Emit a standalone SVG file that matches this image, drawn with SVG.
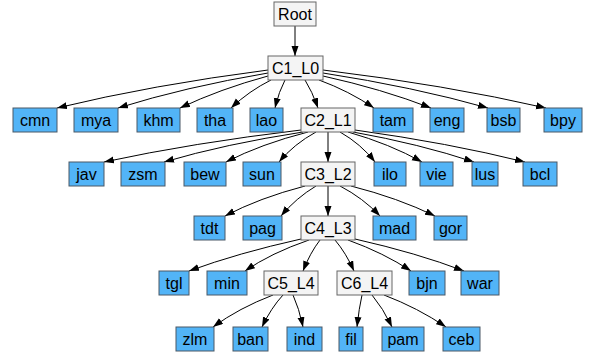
<svg xmlns="http://www.w3.org/2000/svg" width="590" height="355" viewBox="0 0 590 355">
<style>
.b{fill:#52b4f7;stroke:#4a5866;stroke-width:1}
.g{fill:#f4f4f4;stroke:#666;stroke-width:1}
text{font-family:"Liberation Sans",Arial,sans-serif;font-size:16px;text-anchor:middle;fill:#000}
.e path{fill:none;stroke:#000;stroke-width:1;marker-end:url(#a)}
</style>
<defs>
<marker id="a" markerUnits="userSpaceOnUse" markerWidth="10" markerHeight="8" refX="10" refY="3.5" orient="auto"><path d="M0,0 L10,3.5 L0,7 z" fill="#000"/></marker>
</defs>
<g class="e" id="edges">
<path d="M295,26 L295,56"/>
<path d="M268,70 Q152,85 57,108"/>
<path d="M268,73 Q185,87 118,108"/>
<path d="M268,76 Q220,89 180,108"/>
<path d="M271,80 Q249,91 231,108"/>
<path d="M285,80 Q279,91 275,108"/>
<path d="M305,80 Q312,91 318,108"/>
<path d="M319,80 Q349,91 374,108"/>
<path d="M323,76 Q382,89 431,108"/>
<path d="M323,73 Q414,87 488,108"/>
<path d="M323,70 Q446,85 546,108"/>
<path d="M301,130 Q192,143 104,162"/>
<path d="M303,132 Q225,144 164,162"/>
<path d="M308,132 Q261,144 226,162"/>
<path d="M316,132 Q294,144 279,162"/>
<path d="M328,132 L328,162"/>
<path d="M340,132 Q361,144 375,162"/>
<path d="M348,132 Q390,144 422,162"/>
<path d="M353,132 Q420,144 474,162"/>
<path d="M355,130 Q449,143 525,162"/>
<path d="M305,186 Q259,198 225,216"/>
<path d="M316,186 Q296,198 281,216"/>
<path d="M328,186 L328,216"/>
<path d="M340,186 Q363,198 380,216"/>
<path d="M351,186 Q398,198 435,216"/>
<path d="M301,239 Q238,253 189,271"/>
<path d="M309,240 Q271,253 245,271"/>
<path d="M320,240 Q310,253 303,271"/>
<path d="M335,240 Q346,253 354,271"/>
<path d="M348,240 Q384,253 411,271"/>
<path d="M355,239 Q417,253 464,271"/>
<path d="M273,295 Q239,308 213,327"/>
<path d="M283,295 Q271,308 262,327"/>
<path d="M293,295 Q299,308 303,327"/>
<path d="M362,295 Q359,308 357,327"/>
<path d="M372,295 Q383,308 392,327"/>
<path d="M384,295 Q418,308 446,327"/>
</g>
<g id="Root"><rect class="g" x="274" y="2" width="42" height="24"/><text x="295" y="19.5">Root</text></g>
<g id="C1_L0"><rect class="g" x="268" y="56" width="55" height="24"/><text x="295.5" y="73.5">C1_L0</text></g>
<g id="cmn"><rect class="b" x="13" y="108" width="44" height="24"/><text x="35" y="125.5">cmn</text></g>
<g id="mya"><rect class="b" x="74" y="108" width="44" height="24"/><text x="96" y="125.5">mya</text></g>
<g id="khm"><rect class="b" x="137" y="108" width="43" height="24"/><text x="158.5" y="125.5">khm</text></g>
<g id="tha"><rect class="b" x="197" y="108" width="36" height="24"/><text x="215" y="125.5">tha</text></g>
<g id="lao"><rect class="b" x="250" y="108" width="33" height="24"/><text x="266.5" y="125.5">lao</text></g>
<g id="C2_L1"><rect class="g" x="301" y="108" width="54" height="24"/><text x="328" y="125.5">C2_L1</text></g>
<g id="tam"><rect class="b" x="373" y="108" width="40" height="24"/><text x="393" y="125.5">tam</text></g>
<g id="eng"><rect class="b" x="430" y="108" width="34" height="24"/><text x="447" y="125.5">eng</text></g>
<g id="bsb"><rect class="b" x="487" y="108" width="33" height="24"/><text x="503.5" y="125.5">bsb</text></g>
<g id="bpy"><rect class="b" x="544" y="108" width="38" height="24"/><text x="563" y="125.5">bpy</text></g>
<g id="jav"><rect class="b" x="69" y="162" width="35" height="24"/><text x="86.5" y="179.5">jav</text></g>
<g id="zsm"><rect class="b" x="121" y="162" width="44" height="24"/><text x="143" y="179.5">zsm</text></g>
<g id="bew"><rect class="b" x="184" y="162" width="42" height="24"/><text x="205" y="179.5">bew</text></g>
<g id="sun"><rect class="b" x="243" y="162" width="38" height="24"/><text x="262" y="179.5">sun</text></g>
<g id="C3_L2"><rect class="g" x="301" y="162" width="54" height="24"/><text x="328" y="179.5">C3_L2</text></g>
<g id="ilo"><rect class="b" x="374" y="162" width="32" height="24"/><text x="390" y="179.5">ilo</text></g>
<g id="vie"><rect class="b" x="420" y="162" width="33" height="24"/><text x="436.5" y="179.5">vie</text></g>
<g id="lus"><rect class="b" x="472" y="162" width="26" height="24"/><text x="485" y="179.5">lus</text></g>
<g id="bcl"><rect class="b" x="523" y="162" width="34" height="24"/><text x="540" y="179.5">bcl</text></g>
<g id="tdt"><rect class="b" x="194" y="216" width="31" height="24"/><text x="209.5" y="233.5">tdt</text></g>
<g id="pag"><rect class="b" x="243" y="216" width="39" height="24"/><text x="262.5" y="233.5">pag</text></g>
<g id="C4_L3"><rect class="g" x="301" y="216" width="54" height="24"/><text x="328" y="233.5">C4_L3</text></g>
<g id="mad"><rect class="b" x="373" y="216" width="43" height="24"/><text x="394.5" y="233.5">mad</text></g>
<g id="gor"><rect class="b" x="434" y="216" width="33" height="24"/><text x="450.5" y="233.5">gor</text></g>
<g id="tgl"><rect class="b" x="159" y="271" width="30" height="24"/><text x="174" y="288.5">tgl</text></g>
<g id="min"><rect class="b" x="207" y="271" width="40" height="24"/><text x="227" y="288.5">min</text></g>
<g id="C5_L4"><rect class="g" x="264" y="271" width="54" height="24"/><text x="291" y="288.5">C5_L4</text></g>
<g id="C6_L4"><rect class="g" x="337" y="271" width="55" height="24"/><text x="364.5" y="288.5">C6_L4</text></g>
<g id="bjn"><rect class="b" x="409" y="271" width="36" height="24"/><text x="427" y="288.5">bjn</text></g>
<g id="war"><rect class="b" x="461" y="271" width="38" height="24"/><text x="480" y="288.5">war</text></g>
<g id="zlm"><rect class="b" x="176" y="327" width="38" height="24"/><text x="195" y="344.5">zlm</text></g>
<g id="ban"><rect class="b" x="233" y="327" width="35" height="24"/><text x="250.5" y="344.5">ban</text></g>
<g id="ind"><rect class="b" x="287" y="327" width="35" height="24"/><text x="304.5" y="344.5">ind</text></g>
<g id="fil"><rect class="b" x="339" y="327" width="24" height="24"/><text x="351" y="344.5">fil</text></g>
<g id="pam"><rect class="b" x="382" y="327" width="42" height="24"/><text x="403" y="344.5">pam</text></g>
<g id="ceb"><rect class="b" x="443" y="327" width="37" height="24"/><text x="461.5" y="344.5">ceb</text></g>
</svg>
